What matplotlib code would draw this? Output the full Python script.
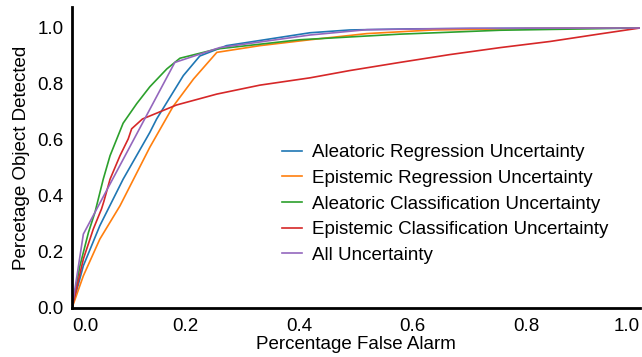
import matplotlib
matplotlib.use('Agg')
import matplotlib.pyplot as plt

plt.rcParams['font.family'] = ['Liberation Sans', 'DejaVu Sans']

# curves (false alarm rate, detection rate)
ale_reg_x = [0.0, 0.02, 0.049, 0.09, 0.137, 0.149, 0.196, 0.225, 0.272, 0.419, 0.489, 0.6, 0.8, 1.0]
ale_reg_y = [0.0, 0.151, 0.294, 0.46, 0.627, 0.675, 0.83, 0.90, 0.937, 0.983, 0.993, 0.997, 0.999, 1.0]

epi_reg_x = [0.0, 0.02, 0.049, 0.0845, 0.137, 0.178, 0.214, 0.255, 0.331, 0.419, 0.519, 0.636, 0.8, 1.0]
epi_reg_y = [0.0, 0.115, 0.246, 0.365, 0.574, 0.72, 0.818, 0.913, 0.937, 0.958, 0.98, 0.993, 0.998, 1.0]

ale_cls_x = [0.0, 0.014, 0.029, 0.0405, 0.055, 0.067, 0.090, 0.114, 0.137, 0.167, 0.190, 0.255, 0.401,
             0.577, 0.754, 1.0]
ale_cls_y = [0.0, 0.151, 0.27, 0.342, 0.46, 0.544, 0.66, 0.73, 0.79, 0.854, 0.892, 0.925, 0.958,
             0.978, 0.992, 1.0]

epi_cls_x = [0.0, 0.02, 0.0375, 0.052, 0.056, 0.067, 0.0845, 0.099, 0.105, 0.124, 0.184, 0.255, 0.331,
             0.419, 0.489, 0.577, 0.665, 0.754, 0.842, 0.93, 1.0]
epi_cls_y = [0.0, 0.175, 0.282, 0.354, 0.38, 0.46, 0.544, 0.604, 0.64, 0.675, 0.725, 0.764, 0.796,
             0.822, 0.848, 0.877, 0.905, 0.93, 0.952, 0.979, 1.0]

all_x = [0.0, 0.02, 0.181, 0.26, 0.419, 0.519, 0.7, 1.0]
all_y = [0.0, 0.264, 0.877, 0.93, 0.975, 0.994, 0.999, 1.0]

names = ['Aleatoric Regression Uncertainty', 'Epistemic Regression Uncertainty',
         'Aleatoric Classification Uncertainty', 'Epistemic Classification Uncertainty',
         'All Uncertainty']
colors = ['#1f77b4', '#ff7f0e', '#2ca02c', '#d62728', '#9467bd']

fig = plt.figure(figsize=(6.42, 3.57), dpi=100)
ax = fig.add_axes([72 / 642, 49 / 357, 568 / 642, 301 / 357])

curves = [(ale_reg_x, ale_reg_y), (epi_reg_x, epi_reg_y), (ale_cls_x, ale_cls_y),
          (epi_cls_x, epi_cls_y), (all_x, all_y)]
for (xs, ys), name, c in zip(curves, names, colors):
    ax.plot(xs, ys, color=c, lw=1.2, label=name)

ax.set_xlim(0, 1.0)
ax.set_ylim(0, 1.075)
ax.set_xticks([0.0, 0.2, 0.4, 0.6, 0.8, 1.0])
ax.set_yticks([0.0, 0.2, 0.4, 0.6, 0.8, 1.0])
ax.tick_params(axis='both', length=0, labelsize=13.5)
ax.tick_params(axis='x', pad=7)
ax.tick_params(axis='y', pad=6)
xl = ax.get_xticklabels()
xl[0].set_ha('left')
xl[-1].set_ha('right')

for s in ['top', 'right']:
    ax.spines[s].set_visible(False)
for s in ['left', 'bottom']:
    ax.spines[s].set_linewidth(2)
    ax.spines[s].set_color('black')

ax.set_xlabel('Percentage False Alarm', fontsize=13.5, labelpad=1)
ax.set_ylabel('Percetage Object Detected', fontsize=13.5, labelpad=5)

ax.legend(loc='upper left', bbox_to_anchor=(0.34, 0.6), frameon=False, fontsize=13.5,
          handlelength=1.05, handletextpad=0.55, labelspacing=0.45)

fig.savefig('out.png', dpi=100)
